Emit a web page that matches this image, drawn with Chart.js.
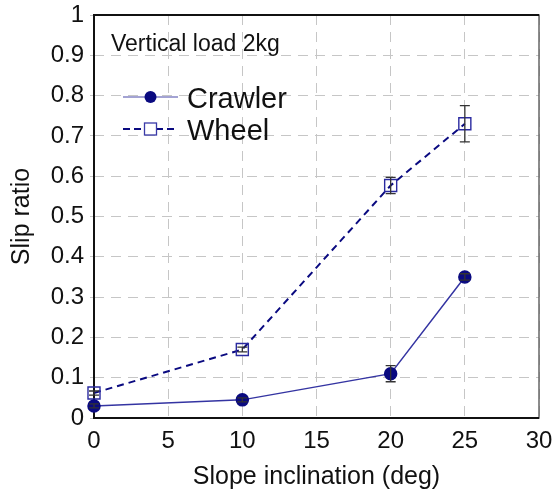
<!DOCTYPE html>
<html><head><meta charset="utf-8">
<script src="https://cdn.jsdelivr.net/npm/chart.js@4"></script>
<style>html,body{margin:0;padding:0;background:#fff}#wrap{width:558px;height:492px}</style>
</head><body><div id="wrap"><canvas id="c" width="558" height="492"></canvas></div>
<script>
const slopes = [0, 10, 20, 25];
const crawler = [0.03, 0.045, 0.11, 0.35];
const crawlerErr = [0.005, 0.005, 0.02, 0.008];
const wheel = [0.062, 0.17, 0.577, 0.73];
const wheelErr = [0.005, 0.006, 0.02, 0.045];
const xTicks = [0, 5, 10, 15, 20, 25, 30];
const yTicks = [0, 0.1, 0.2, 0.3, 0.4, 0.5, 0.6, 0.7, 0.8, 0.9, 1];
const seriesNames = ['Crawler', 'Wheel'];
const note = 'Vertical load 2kg';

const FONT = '"Liberation Sans", Arial, sans-serif';
const NAVY = '#0a0a80';

const errPlugin = {
  id: 'err',
  afterDatasetsDraw(chart) {
    const ctx = chart.ctx, xs = chart.scales.x, ys = chart.scales.y;
    const sets = [[crawler, crawlerErr], [wheel, wheelErr]];
    ctx.save();
    ctx.lineWidth = 1.3;
    ctx.strokeStyle = '#333';
    sets.forEach(([vals, errs]) => {
      vals.forEach((v, i) => {
        const x = xs.getPixelForValue(slopes[i]);
        const y1 = ys.getPixelForValue(v - errs[i]);
        const y2 = ys.getPixelForValue(v + errs[i]);
        ctx.beginPath();
        ctx.moveTo(x, y1); ctx.lineTo(x, y2);
        ctx.moveTo(x - 5, y1); ctx.lineTo(x + 5, y1);
        ctx.moveTo(x - 5, y2); ctx.lineTo(x + 5, y2);
        ctx.stroke();
      });
    });
    ctx.restore();
  }
};

const boxPlugin = {
  id: 'box',
  beforeDatasetsDraw(chart) {
    const ctx = chart.ctx, a = chart.chartArea;
    ctx.save();
    ctx.strokeStyle = '#666';
    ctx.lineWidth = 1.5;
    ctx.strokeRect(a.left, a.top, a.right - a.left, a.bottom - a.top);
    ctx.strokeStyle = '#111';
    ctx.lineWidth = 2;
    ctx.beginPath();
    ctx.moveTo(a.right, a.top); ctx.lineTo(a.left, a.top); ctx.lineTo(a.left, a.bottom); ctx.lineTo(a.right, a.bottom);
    ctx.stroke();
    ctx.restore();
  },
  afterDraw(chart) {
    const ctx = chart.ctx, a = chart.chartArea;
    ctx.save();
    ctx.fillStyle = '#111';
    ctx.font = '23px ' + FONT;
    ctx.textBaseline = 'middle';
    ctx.textAlign = 'left';
    ctx.fillText(note, a.left + 17, a.top + 30);
    // legend
    const lx0 = a.left + 29, lx1 = a.left + 84;
    const yc = a.top + 82, yw = a.top + 114;
    ctx.strokeStyle = '#8585c4'; ctx.lineWidth = 1.5; ctx.setLineDash([]);
    ctx.beginPath(); ctx.moveTo(lx0, yc); ctx.lineTo(lx1, yc); ctx.stroke();
    ctx.fillStyle = NAVY;
    ctx.beginPath(); ctx.arc((lx0 + lx1) / 2, yc, 6, 0, Math.PI * 2); ctx.fill();
    ctx.strokeStyle = NAVY; ctx.lineWidth = 2; ctx.setLineDash([7, 4]);
    ctx.beginPath(); ctx.moveTo(lx0, yw); ctx.lineTo(lx1, yw); ctx.stroke();
    ctx.setLineDash([]);
    ctx.fillStyle = '#fff'; ctx.lineWidth = 1.3;
    const m = (lx0 + lx1) / 2;
    ctx.fillRect(m - 6, yw - 6, 12, 12);
    ctx.strokeStyle = '#3a3aa8';
    ctx.strokeRect(m - 6, yw - 6, 12, 12);
    ctx.fillStyle = '#111';
    ctx.font = '29px ' + FONT;
    ctx.fillText(seriesNames[0], lx1 + 9, yc + 3);
    ctx.fillText(seriesNames[1], lx1 + 9, yw + 3);
    ctx.restore();
  }
};

new Chart(document.getElementById('c'), {
  type: 'line',
  data: {
    datasets: [
      { label: seriesNames[0], data: slopes.map((s, i) => ({ x: s, y: crawler[i] })),
        borderColor: '#3434a2', borderWidth: 1.5, pointStyle: 'circle', pointRadius: 6, clip: false,
        pointBackgroundColor: NAVY, pointBorderColor: NAVY, tension: 0 },
      { label: seriesNames[1], data: slopes.map((s, i) => ({ x: s, y: wheel[i] })),
        borderColor: NAVY, borderWidth: 2, borderDash: [7, 5], pointStyle: 'rect', pointRadius: 8.5, clip: false,
        pointBackgroundColor: 'rgba(255,255,255,0)', pointBorderColor: '#2a2aa0', pointBorderWidth: 1.4, tension: 0 }
    ]
  },
  options: {
    responsive: false, animation: false, devicePixelRatio: 1,
    layout: { padding: { left: 7, right: 19, top: 15, bottom: 0 } },
    plugins: { legend: { display: false }, tooltip: { enabled: false } },
    scales: {
      x: {
        type: 'linear', min: 0, max: 30,
        afterBuildTicks: s => { s.ticks = xTicks.map(v => ({ value: v })); },
        grid: { color: '#c6c6c6', lineWidth: 1, drawTicks: false },
        border: { display: false, dash: [10, 7] },
        ticks: { color: '#111', font: { family: FONT, size: 24 }, padding: 9 },
        title: { display: true, text: 'Slope inclination (deg)', color: '#111', font: { family: FONT, size: 25 }, padding: { top: 2, bottom: 0 } },
        afterFit: s => { s.height = 74; s.paddingLeft = 0; s.paddingRight = 0; }
      },
      y: {
        min: 0, max: 1,
        afterBuildTicks: s => { s.ticks = yTicks.map(v => ({ value: v })); },
        grid: { color: '#c6c6c6', lineWidth: 1, drawTicks: true, tickLength: 4 },
        border: { display: false, dash: [10, 7] },
        ticks: { color: '#111', font: { family: FONT, size: 24 }, padding: 6,
          callback: v => String(Math.round(v * 10) / 10) },
        title: { display: true, text: 'Slip ratio', color: '#111', font: { family: FONT, size: 25 }, padding: { top: 0, bottom: 4 } },
        afterFit: s => { s.width = 87; s.paddingTop = 0; s.paddingBottom = 0; }
      }
    }
  },
  plugins: [errPlugin, boxPlugin]
});
</script></body></html>
